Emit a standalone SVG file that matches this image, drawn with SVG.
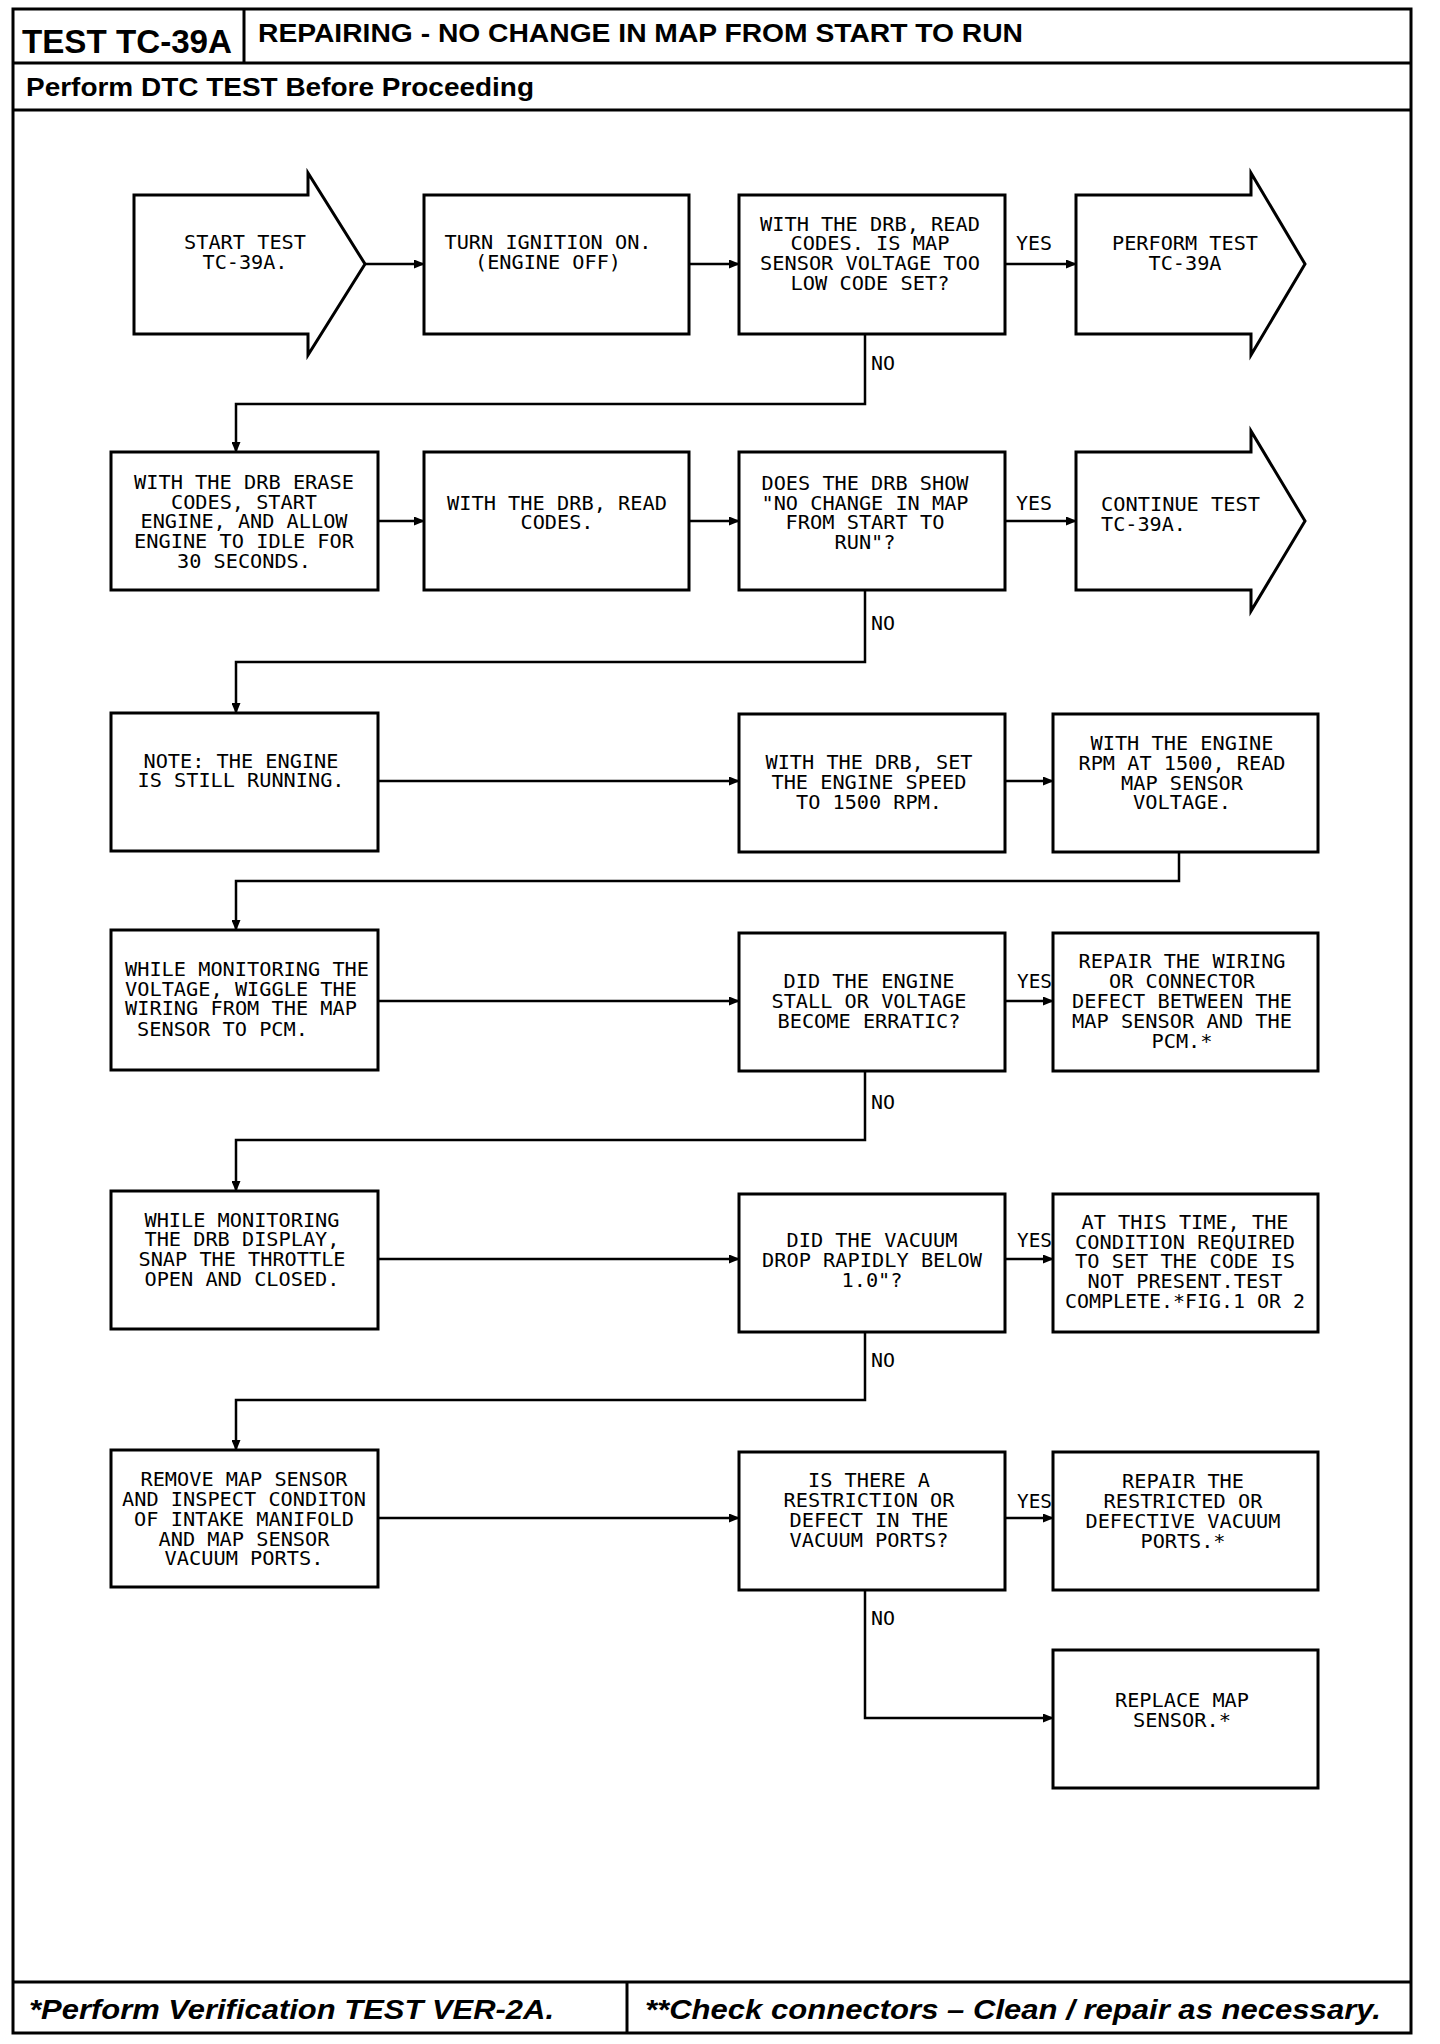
<svg xmlns="http://www.w3.org/2000/svg" width="1440" height="2044" viewBox="0 0 1440 2044">
<style>
.frame{fill:none;stroke:#000;stroke-width:3}
.box{fill:#fff;stroke:#000;stroke-width:3}
.conn{fill:none;stroke:#000;stroke-width:2.5}
.t,.ts{font-family:"DejaVu Sans Mono","Liberation Mono",monospace;font-size:19px;fill:#000}
.t{text-anchor:middle}
.ts{text-anchor:start}
.hb{font-family:"Liberation Sans",Arial,sans-serif;font-weight:bold;fill:#000}
.fi{font-family:"Liberation Sans",Arial,sans-serif;font-weight:bold;font-style:italic;fill:#000;font-size:28px}
</style>
<defs>
<marker id="ah" markerUnits="userSpaceOnUse" markerWidth="11" markerHeight="9" refX="10" refY="4.5" orient="auto">
<path d="M0,0 L11,4.5 L0,9 z" fill="#000"/>
</marker>
</defs>
<rect width="1440" height="2044" fill="#fff"/>
<g id="frame">
<rect class="frame" x="13" y="9" width="1398" height="2024"/>
<line class="frame" x1="13" y1="63" x2="1411" y2="63"/>
<line class="frame" x1="244" y1="9" x2="244" y2="63"/>
<line class="frame" x1="13" y1="110" x2="1411" y2="110"/>
<line class="frame" x1="13" y1="1982" x2="1411" y2="1982"/>
<line class="frame" x1="627" y1="1982" x2="627" y2="2033"/>
<text class="hb" x="22" y="53" font-size="33" textLength="210" lengthAdjust="spacingAndGlyphs">TEST TC-39A</text>
<text class="hb" x="258" y="42" font-size="25" textLength="765" lengthAdjust="spacingAndGlyphs">REPAIRING - NO CHANGE IN MAP FROM START TO RUN</text>
<text class="hb" x="26" y="96" font-size="26" textLength="508" lengthAdjust="spacingAndGlyphs">Perform DTC TEST Before Proceeding</text>
<text class="fi" x="29" y="2019" textLength="525" lengthAdjust="spacingAndGlyphs">*Perform Verification TEST VER-2A.</text>
<text class="fi" x="645" y="2019" textLength="736" lengthAdjust="spacingAndGlyphs">**Check connectors – Clean / repair as necessary.</text>
</g>
<g id="connectors">
<line class="conn" x1="365" y1="264" x2="424" y2="264" marker-end="url(#ah)"/>
<line class="conn" x1="689" y1="264" x2="739" y2="264" marker-end="url(#ah)"/>
<line class="conn" x1="1005" y1="264" x2="1076" y2="264" marker-end="url(#ah)"/>
<path class="conn" d="M865,334 V404 H236 V452" marker-end="url(#ah)"/>
<line class="conn" x1="378" y1="521" x2="424" y2="521" marker-end="url(#ah)"/>
<line class="conn" x1="689" y1="521" x2="739" y2="521" marker-end="url(#ah)"/>
<line class="conn" x1="1005" y1="521" x2="1076" y2="521" marker-end="url(#ah)"/>
<path class="conn" d="M865,590 V662 H236 V713" marker-end="url(#ah)"/>
<line class="conn" x1="378" y1="781" x2="739" y2="781" marker-end="url(#ah)"/>
<line class="conn" x1="1005" y1="781" x2="1053" y2="781" marker-end="url(#ah)"/>
<path class="conn" d="M1179,852 V881 H236 V930" marker-end="url(#ah)"/>
<line class="conn" x1="378" y1="1001" x2="739" y2="1001" marker-end="url(#ah)"/>
<line class="conn" x1="1005" y1="1001" x2="1053" y2="1001" marker-end="url(#ah)"/>
<path class="conn" d="M865,1071 V1140 H236 V1191" marker-end="url(#ah)"/>
<line class="conn" x1="378" y1="1259" x2="739" y2="1259" marker-end="url(#ah)"/>
<line class="conn" x1="1005" y1="1259" x2="1053" y2="1259" marker-end="url(#ah)"/>
<path class="conn" d="M865,1332 V1400 H236 V1450" marker-end="url(#ah)"/>
<line class="conn" x1="378" y1="1518" x2="739" y2="1518" marker-end="url(#ah)"/>
<line class="conn" x1="1005" y1="1518" x2="1053" y2="1518" marker-end="url(#ah)"/>
<path class="conn" d="M865,1590 V1718 H1053" marker-end="url(#ah)"/>
<text class="ts" x="1016" y="250" textLength="36" lengthAdjust="spacingAndGlyphs">YES</text>
<text class="ts" x="1016" y="510" textLength="36" lengthAdjust="spacingAndGlyphs">YES</text>
<text class="ts" x="1017" y="988" textLength="35" lengthAdjust="spacingAndGlyphs">YES</text>
<text class="ts" x="1017" y="1247" textLength="35" lengthAdjust="spacingAndGlyphs">YES</text>
<text class="ts" x="1017" y="1508" textLength="35" lengthAdjust="spacingAndGlyphs">YES</text>
<text class="ts" x="871" y="370" textLength="24" lengthAdjust="spacingAndGlyphs">NO</text>
<text class="ts" x="871" y="630" textLength="24" lengthAdjust="spacingAndGlyphs">NO</text>
<text class="ts" x="871" y="1109" textLength="24" lengthAdjust="spacingAndGlyphs">NO</text>
<text class="ts" x="871" y="1367" textLength="24" lengthAdjust="spacingAndGlyphs">NO</text>
<text class="ts" x="871" y="1625" textLength="24" lengthAdjust="spacingAndGlyphs">NO</text>
</g>
<g id="start">
<polygon class="box" points="134,195 308,195 308,173 365,264 308,355 308,334 134,334"/>
<text class="t" x="245" y="249" textLength="122" lengthAdjust="spacingAndGlyphs">START TEST</text>
<text class="t" x="245" y="269" textLength="85" lengthAdjust="spacingAndGlyphs">TC-39A.</text>
</g>
<g id="ignition">
<rect class="box" x="424" y="195" width="265" height="139"/>
<text class="t" x="548" y="249" textLength="207" lengthAdjust="spacingAndGlyphs">TURN IGNITION ON.</text>
<text class="t" x="548" y="269" textLength="146" lengthAdjust="spacingAndGlyphs">(ENGINE OFF)</text>
</g>
<g id="readcodes1">
<rect class="box" x="739" y="195" width="266" height="139"/>
<text class="t" x="870" y="231" textLength="220" lengthAdjust="spacingAndGlyphs">WITH THE DRB, READ</text>
<text class="t" x="870" y="250" textLength="159" lengthAdjust="spacingAndGlyphs">CODES. IS MAP</text>
<text class="t" x="870" y="270" textLength="220" lengthAdjust="spacingAndGlyphs">SENSOR VOLTAGE TOO</text>
<text class="t" x="870" y="290" textLength="159" lengthAdjust="spacingAndGlyphs">LOW CODE SET?</text>
</g>
<g id="perform">
<polygon class="box" points="1076,195 1251,195 1251,173 1305,264 1251,355 1251,334 1076,334"/>
<text class="t" x="1185" y="250" textLength="146" lengthAdjust="spacingAndGlyphs">PERFORM TEST</text>
<text class="t" x="1185" y="270" textLength="73" lengthAdjust="spacingAndGlyphs">TC-39A</text>
</g>
<g id="erase">
<rect class="box" x="111" y="452" width="267" height="138"/>
<text class="t" x="244" y="489" textLength="220" lengthAdjust="spacingAndGlyphs">WITH THE DRB ERASE</text>
<text class="t" x="244" y="509" textLength="146" lengthAdjust="spacingAndGlyphs">CODES, START</text>
<text class="t" x="244" y="528" textLength="207" lengthAdjust="spacingAndGlyphs">ENGINE, AND ALLOW</text>
<text class="t" x="244" y="548" textLength="220" lengthAdjust="spacingAndGlyphs">ENGINE TO IDLE FOR</text>
<text class="t" x="244" y="568" textLength="134" lengthAdjust="spacingAndGlyphs">30 SECONDS.</text>
</g>
<g id="readcodes2">
<rect class="box" x="424" y="452" width="265" height="138"/>
<text class="t" x="557" y="510" textLength="220" lengthAdjust="spacingAndGlyphs">WITH THE DRB, READ</text>
<text class="t" x="557" y="529" textLength="73" lengthAdjust="spacingAndGlyphs">CODES.</text>
</g>
<g id="nochange">
<rect class="box" x="739" y="452" width="266" height="138"/>
<text class="t" x="865" y="490" textLength="207" lengthAdjust="spacingAndGlyphs">DOES THE DRB SHOW</text>
<text class="t" x="865" y="510" textLength="207" lengthAdjust="spacingAndGlyphs">"NO CHANGE IN MAP</text>
<text class="t" x="865" y="529" textLength="159" lengthAdjust="spacingAndGlyphs">FROM START TO</text>
<text class="t" x="865" y="549" textLength="61" lengthAdjust="spacingAndGlyphs">RUN"?</text>
</g>
<g id="continue">
<polygon class="box" points="1076,452 1251,452 1251,431 1305,521 1251,611 1251,590 1076,590"/>
<text class="ts" x="1101" y="511" textLength="159" lengthAdjust="spacingAndGlyphs">CONTINUE TEST</text>
<text class="ts" x="1101" y="531" textLength="85" lengthAdjust="spacingAndGlyphs">TC-39A.</text>
</g>
<g id="note">
<rect class="box" x="111" y="713" width="267" height="138"/>
<text class="t" x="241" y="768" textLength="195" lengthAdjust="spacingAndGlyphs">NOTE: THE ENGINE</text>
<text class="t" x="241" y="787" textLength="207" lengthAdjust="spacingAndGlyphs">IS STILL RUNNING.</text>
</g>
<g id="setspeed">
<rect class="box" x="739" y="714" width="266" height="138"/>
<text class="t" x="869" y="769" textLength="207" lengthAdjust="spacingAndGlyphs">WITH THE DRB, SET</text>
<text class="t" x="869" y="789" textLength="195" lengthAdjust="spacingAndGlyphs">THE ENGINE SPEED</text>
<text class="t" x="869" y="809" textLength="146" lengthAdjust="spacingAndGlyphs">TO 1500 RPM.</text>
</g>
<g id="readvoltage">
<rect class="box" x="1053" y="714" width="265" height="138"/>
<text class="t" x="1182" y="750" textLength="183" lengthAdjust="spacingAndGlyphs">WITH THE ENGINE</text>
<text class="t" x="1182" y="770" textLength="207" lengthAdjust="spacingAndGlyphs">RPM AT 1500, READ</text>
<text class="t" x="1182" y="790" textLength="122" lengthAdjust="spacingAndGlyphs">MAP SENSOR</text>
<text class="t" x="1182" y="809" textLength="98" lengthAdjust="spacingAndGlyphs">VOLTAGE.</text>
</g>
<g id="wiggle">
<rect class="box" x="111" y="930" width="267" height="140"/>
<text class="ts" x="125" y="976" textLength="244" lengthAdjust="spacingAndGlyphs">WHILE MONITORING THE</text>
<text class="ts" x="125" y="996" textLength="232" lengthAdjust="spacingAndGlyphs">VOLTAGE, WIGGLE THE</text>
<text class="ts" x="125" y="1015" textLength="232" lengthAdjust="spacingAndGlyphs">WIRING FROM THE MAP</text>
<text class="ts" x="137" y="1036" textLength="171" lengthAdjust="spacingAndGlyphs">SENSOR TO PCM.</text>
</g>
<g id="stall">
<rect class="box" x="739" y="933" width="266" height="138"/>
<text class="t" x="869" y="988" textLength="171" lengthAdjust="spacingAndGlyphs">DID THE ENGINE</text>
<text class="t" x="869" y="1008" textLength="195" lengthAdjust="spacingAndGlyphs">STALL OR VOLTAGE</text>
<text class="t" x="869" y="1028" textLength="183" lengthAdjust="spacingAndGlyphs">BECOME ERRATIC?</text>
</g>
<g id="repairwiring">
<rect class="box" x="1053" y="933" width="265" height="138"/>
<text class="t" x="1182" y="968" textLength="207" lengthAdjust="spacingAndGlyphs">REPAIR THE WIRING</text>
<text class="t" x="1182" y="988" textLength="146" lengthAdjust="spacingAndGlyphs">OR CONNECTOR</text>
<text class="t" x="1182" y="1008" textLength="220" lengthAdjust="spacingAndGlyphs">DEFECT BETWEEN THE</text>
<text class="t" x="1182" y="1028" textLength="220" lengthAdjust="spacingAndGlyphs">MAP SENSOR AND THE</text>
<text class="t" x="1182" y="1048" textLength="61" lengthAdjust="spacingAndGlyphs">PCM.*</text>
</g>
<g id="snap">
<rect class="box" x="111" y="1191" width="267" height="138"/>
<text class="t" x="242" y="1227" textLength="195" lengthAdjust="spacingAndGlyphs">WHILE MONITORING</text>
<text class="t" x="242" y="1246" textLength="195" lengthAdjust="spacingAndGlyphs">THE DRB DISPLAY,</text>
<text class="t" x="242" y="1266" textLength="207" lengthAdjust="spacingAndGlyphs">SNAP THE THROTTLE</text>
<text class="t" x="242" y="1286" textLength="195" lengthAdjust="spacingAndGlyphs">OPEN AND CLOSED.</text>
</g>
<g id="vacuum">
<rect class="box" x="739" y="1194" width="266" height="138"/>
<text class="t" x="872" y="1247" textLength="171" lengthAdjust="spacingAndGlyphs">DID THE VACUUM</text>
<text class="t" x="872" y="1267" textLength="220" lengthAdjust="spacingAndGlyphs">DROP RAPIDLY BELOW</text>
<text class="t" x="872" y="1287" textLength="61" lengthAdjust="spacingAndGlyphs">1.0"?</text>
</g>
<g id="complete">
<rect class="box" x="1053" y="1194" width="265" height="138"/>
<text class="t" x="1185" y="1229" textLength="207" lengthAdjust="spacingAndGlyphs">AT THIS TIME, THE</text>
<text class="t" x="1185" y="1249" textLength="220" lengthAdjust="spacingAndGlyphs">CONDITION REQUIRED</text>
<text class="t" x="1185" y="1268" textLength="220" lengthAdjust="spacingAndGlyphs">TO SET THE CODE IS</text>
<text class="t" x="1185" y="1288" textLength="195" lengthAdjust="spacingAndGlyphs">NOT PRESENT.TEST</text>
<text class="t" x="1185" y="1308" textLength="240" lengthAdjust="spacingAndGlyphs">COMPLETE.*FIG.1 OR 2</text>
</g>
<g id="remove">
<rect class="box" x="111" y="1450" width="267" height="137"/>
<text class="t" x="244" y="1486" textLength="207" lengthAdjust="spacingAndGlyphs">REMOVE MAP SENSOR</text>
<text class="t" x="244" y="1506" textLength="244" lengthAdjust="spacingAndGlyphs">AND INSPECT CONDITON</text>
<text class="t" x="244" y="1526" textLength="220" lengthAdjust="spacingAndGlyphs">OF INTAKE MANIFOLD</text>
<text class="t" x="244" y="1546" textLength="171" lengthAdjust="spacingAndGlyphs">AND MAP SENSOR</text>
<text class="t" x="244" y="1565" textLength="159" lengthAdjust="spacingAndGlyphs">VACUUM PORTS.</text>
</g>
<g id="restriction">
<rect class="box" x="739" y="1452" width="266" height="138"/>
<text class="t" x="869" y="1487" textLength="122" lengthAdjust="spacingAndGlyphs">IS THERE A</text>
<text class="t" x="869" y="1507" textLength="171" lengthAdjust="spacingAndGlyphs">RESTRICTION OR</text>
<text class="t" x="869" y="1527" textLength="159" lengthAdjust="spacingAndGlyphs">DEFECT IN THE</text>
<text class="t" x="869" y="1547" textLength="159" lengthAdjust="spacingAndGlyphs">VACUUM PORTS?</text>
</g>
<g id="repairports">
<rect class="box" x="1053" y="1452" width="265" height="138"/>
<text class="t" x="1183" y="1488" textLength="122" lengthAdjust="spacingAndGlyphs">REPAIR THE</text>
<text class="t" x="1183" y="1508" textLength="159" lengthAdjust="spacingAndGlyphs">RESTRICTED OR</text>
<text class="t" x="1183" y="1528" textLength="195" lengthAdjust="spacingAndGlyphs">DEFECTIVE VACUUM</text>
<text class="t" x="1183" y="1548" textLength="85" lengthAdjust="spacingAndGlyphs">PORTS.*</text>
</g>
<g id="replace">
<rect class="box" x="1053" y="1650" width="265" height="138"/>
<text class="t" x="1182" y="1707" textLength="134" lengthAdjust="spacingAndGlyphs">REPLACE MAP</text>
<text class="t" x="1182" y="1727" textLength="98" lengthAdjust="spacingAndGlyphs">SENSOR.*</text>
</g>
</svg>
